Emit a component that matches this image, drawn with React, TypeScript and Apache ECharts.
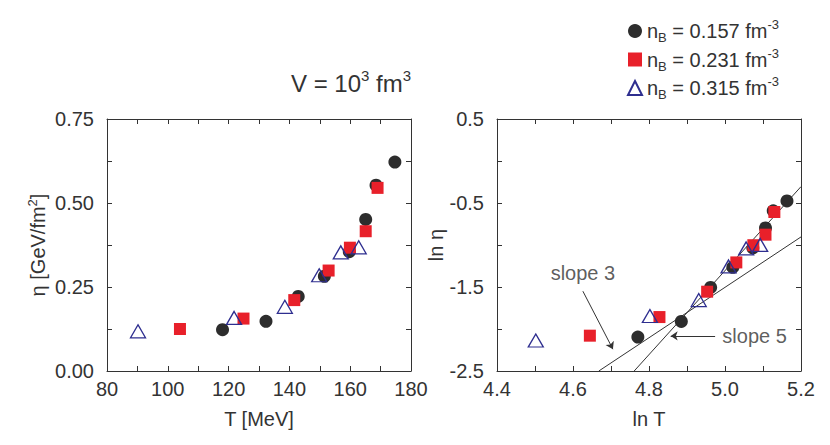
import React, { useEffect, useRef } from "react";
import * as echarts from "echarts";

// ---- data ----
// left panel: eta [GeV/fm^2] vs T [MeV]
const tCircle = [118.0, 132.3, 142.9, 151.5, 159.7, 165.1, 168.5, 174.7];
const etaCircle = [0.123, 0.148, 0.222, 0.282, 0.355, 0.451, 0.553, 0.622];
const tSquare = [104.0, 124.9, 141.6, 152.9, 159.9, 165.1, 169.0];
const etaSquare = [0.125, 0.156, 0.211, 0.299, 0.367, 0.416, 0.545];
const tTriangle = [90.2, 121.8, 138.5, 149.8, 156.9, 162.8];
const etaTriangle = [0.118, 0.158, 0.191, 0.285, 0.353, 0.368];

const densityNames = ["0.157", "0.231", "0.315"];

// right panel: reference lines (ln T, ln eta endpoints)
const slope3Line = [[4.668, -2.5], [5.2, -0.904]];
const slope5Line = [[4.761, -2.5], [5.2, -0.305]];
// annotation arrows (start -> head) and label anchors
const slope3Arrow = [[4.626, -1.55], [4.705, -2.24]];
const slope5Arrow = [[4.974, -2.082], [4.857, -2.082]];
const slope3Label = [4.626, -1.33];
const slope5Label = [4.993, -2.082];

const FONT = "'Liberation Sans', Arial, Helvetica, sans-serif";
const TXT = "#333333";
const AX = "#333333";
const C_BLACK = "#2d2d2d";
const C_RED = "#e8202a";
const C_BLUE = "#2e2e8f";

const zip = (a: number[], b: number[]) => a.map((v, i) => [v, b[i]]);
const zipLog = (a: number[], b: number[]) => a.map((v, i) => [Math.log(v), Math.log(b[i])]);

function baseAxis(min: number, max: number, interval: number) {
  return {
    type: "value",
    min,
    max,
    interval,
    splitLine: { show: false },
    axisLine: { show: true, onZero: false, lineStyle: { color: AX, width: 1 } },
    axisTick: { show: true, inside: true, length: 5, lineStyle: { color: AX, width: 1 } },
  };
}

const labelStyle = { fontSize: 20, color: TXT, fontFamily: FONT, fontWeight: "normal" };

export default function App() {
  const ref = useRef<HTMLDivElement>(null);
  useEffect(() => {
    if (!ref.current) return;
    const chart = echarts.init(ref.current, null, { renderer: "svg" });

    const triStyle = { color: "rgba(255,255,255,0)", borderColor: C_BLUE, borderWidth: 1.3, opacity: 1 };

    const option: any = {
      animation: false,
      backgroundColor: "#ffffff",
      textStyle: { fontFamily: FONT },
      title: {
        text: "{a|V = 10}{s|3}{a| fm}{s|3}",
        left: 338,
        top: 55,
        textAlign: "center",
        textStyle: {
          fontWeight: "normal",
          rich: {
            a: { fontSize: 24, lineHeight: 30, color: TXT, fontFamily: FONT, fontWeight: "normal" },
            s: { fontSize: 15, lineHeight: 15, verticalAlign: "top", color: TXT, fontFamily: FONT, fontWeight: "normal" },
          },
        },
      },
      legend: {
        orient: "vertical",
        left: 614,
        top: 5,
        itemWidth: 14,
        itemHeight: 14,
        itemGap: 2.5,
        data: densityNames,
        formatter: (name: string) => `{n|n}{sub|B}{n| = ${name} fm}{sup|-3}`,
        textStyle: {
          rich: {
            n: { fontSize: 20, lineHeight: 26, color: TXT, fontFamily: FONT },
            sub: { fontSize: 13, lineHeight: 13, verticalAlign: "bottom", color: TXT, fontFamily: FONT },
            sup: { fontSize: 13, lineHeight: 13, verticalAlign: "top", color: TXT, fontFamily: FONT },
          },
        },
      },
      grid: [
        { left: 99, top: 111, width: 304, height: 252 },
        { left: 489, top: 111, width: 304, height: 252 },
      ],
      xAxis: [
        {
          ...baseAxis(80, 180, 10),
          gridIndex: 0,
          position: "bottom",
          axisLabel: {
            ...labelStyle,
            margin: 8,
            formatter: (v: number) => (Math.round(v) % 20 === 0 ? String(Math.round(v)) : ""),
          },
          name: "T [MeV]",
          nameLocation: "middle",
          nameGap: 38,
          nameTextStyle: { ...labelStyle },
        },
        {
          ...baseAxis(80, 180, 10),
          gridIndex: 0,
          position: "top",
          axisLabel: { show: false },
        },
        {
          ...baseAxis(4.4, 5.2, 0.1),
          gridIndex: 1,
          position: "bottom",
          axisLabel: {
            ...labelStyle,
            margin: 8,
            formatter: (v: number) => (Math.round(v * 10) % 2 === 0 ? v.toFixed(1) : ""),
          },
          name: "ln T",
          nameLocation: "middle",
          nameGap: 38,
          nameTextStyle: { ...labelStyle },
        },
        {
          ...baseAxis(4.4, 5.2, 0.1),
          gridIndex: 1,
          position: "top",
          axisLabel: { show: false },
        },
      ],
      yAxis: [
        {
          ...baseAxis(0, 0.75, 0.125),
          gridIndex: 0,
          position: "left",
          axisLabel: {
            ...labelStyle,
            margin: 13,
            formatter: (v: number) => (Math.round(v * 8) % 2 === 0 ? v.toFixed(2) : ""),
          },
          name: "{a|η [GeV/fm}{s|2}{a|]}",
          nameLocation: "middle",
          nameRotate: 90,
          nameGap: 57,
          nameTextStyle: {
            rich: {
              a: { fontSize: 20, lineHeight: 24, color: TXT, fontFamily: FONT },
              s: { fontSize: 13, lineHeight: 13, verticalAlign: "top", color: TXT, fontFamily: FONT },
            },
          },
        },
        {
          ...baseAxis(0, 0.75, 0.125),
          gridIndex: 0,
          position: "right",
          axisLabel: { show: false },
        },
        {
          ...baseAxis(-2.5, 0.5, 0.5),
          gridIndex: 1,
          position: "left",
          axisLabel: {
            ...labelStyle,
            margin: 13,
            formatter: (v: number) => (Math.abs(Math.round(v * 2)) % 2 === 1 ? v.toFixed(1) : ""),
          },
          name: "ln η",
          nameLocation: "middle",
          nameRotate: 90,
          nameGap: 46,
          nameTextStyle: { ...labelStyle },
        },
        {
          ...baseAxis(-2.5, 0.5, 0.5),
          gridIndex: 1,
          position: "right",
          axisLabel: { show: false },
        },
      ],
      series: [
        // left panel
        {
          name: densityNames[0],
          type: "scatter",
          xAxisIndex: 0,
          yAxisIndex: 0,
          symbol: "circle",
          symbolSize: 13,
          itemStyle: { color: C_BLACK, opacity: 1 },
          data: zip(tCircle, etaCircle),
          z: 3,
        },
        {
          name: densityNames[1],
          type: "scatter",
          xAxisIndex: 0,
          yAxisIndex: 0,
          symbol: "rect",
          symbolSize: 12,
          itemStyle: { color: C_RED, opacity: 1 },
          data: zip(tSquare, etaSquare),
          z: 4,
        },
        {
          name: densityNames[2],
          type: "scatter",
          xAxisIndex: 0,
          yAxisIndex: 0,
          symbol: "triangle",
          symbolSize: [15, 13],
          itemStyle: triStyle,
          data: zip(tTriangle, etaTriangle),
          z: 5,
        },
        // right panel reference lines
        {
          type: "line",
          xAxisIndex: 2,
          yAxisIndex: 2,
          showSymbol: false,
          symbol: "none",
          lineStyle: { color: "#333", width: 1 },
          data: slope3Line,
          z: 2,
          silent: true,
        },
        {
          type: "line",
          xAxisIndex: 2,
          yAxisIndex: 2,
          showSymbol: false,
          symbol: "none",
          lineStyle: { color: "#333", width: 1 },
          data: slope5Line,
          z: 2,
          silent: true,
        },
        // right panel data (natural logs of the left-panel values)
        {
          name: densityNames[0],
          type: "scatter",
          xAxisIndex: 2,
          yAxisIndex: 2,
          symbol: "circle",
          symbolSize: 13,
          itemStyle: { color: C_BLACK, opacity: 1 },
          data: zipLog(tCircle, etaCircle),
          z: 3,
        },
        {
          name: densityNames[1],
          type: "scatter",
          xAxisIndex: 2,
          yAxisIndex: 2,
          symbol: "rect",
          symbolSize: 12,
          itemStyle: { color: C_RED, opacity: 1 },
          data: zipLog(tSquare, etaSquare),
          z: 4,
        },
        {
          name: densityNames[2],
          type: "scatter",
          xAxisIndex: 2,
          yAxisIndex: 2,
          symbol: "triangle",
          symbolSize: [15, 13],
          itemStyle: triStyle,
          data: zipLog(tTriangle, etaTriangle),
          z: 5,
        },
        // annotation arrows
        {
          type: "lines",
          coordinateSystem: "cartesian2d",
          xAxisIndex: 2,
          yAxisIndex: 2,
          symbol: ["none", "arrow"],
          symbolSize: 7,
          lineStyle: { color: "#333", width: 1, opacity: 1 },
          data: [{ coords: slope3Arrow }, { coords: slope5Arrow }],
          z: 6,
          silent: true,
        },
        // annotation labels
        {
          type: "scatter",
          xAxisIndex: 2,
          yAxisIndex: 2,
          symbolSize: 1,
          itemStyle: { color: "rgba(0,0,0,0)" },
          silent: true,
          z: 6,
          label: {
            show: true,
            position: "inside",
            ...labelStyle,
            formatter: (p: any) => p.data.text,
          },
          data: [
            { value: slope3Label, text: "slope 3", label: { align: "center" } },
            { value: slope5Label, text: "slope 5", label: { align: "left" } },
          ],
        },
      ],
    };
    chart.setOption(option);
    return () => chart.dispose();
  }, []);
  return <div ref={ref} style={{ width: 814, height: 429 }} />;
}
